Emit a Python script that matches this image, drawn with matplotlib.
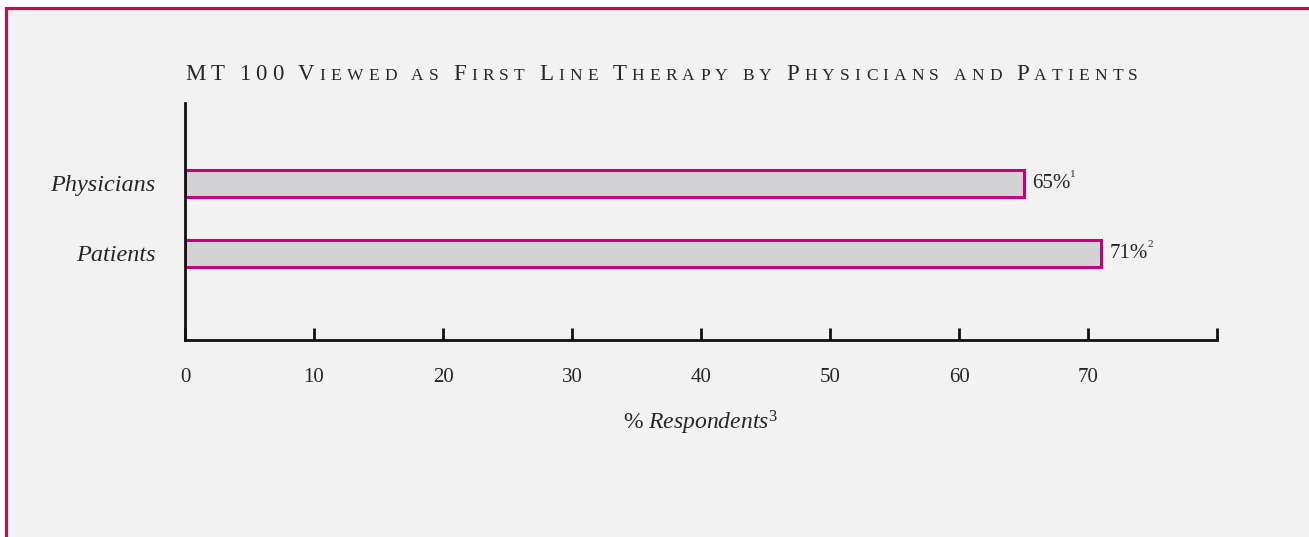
import matplotlib.pyplot as plt
from matplotlib.patches import Rectangle
from matplotlib.offsetbox import TextArea, HPacker, AnnotationBbox

# data
groups = ['Patients', 'Physicians']
values = [71, 65]
notes = ['2', '1']
ticks = [0, 10, 20, 30, 40, 50, 60, 70, 80]
tick_labels = ['0', '10', '20', '30', '40', '50', '60', '70', '']
title_words = ['MT', '100', 'Viewed', 'as', 'First', 'Line', 'Therapy', 'by',
               'Physicians', 'and', 'Patients']

serif = 'Liberation Serif'
plt.rcParams['font.family'] = serif
plt.rcParams['mathtext.fontset'] = 'custom'
plt.rcParams['mathtext.rm'] = serif
plt.rcParams['mathtext.it'] = serif + ':italic'

border = '#b01852'
bar_edge = '#c4007a'
bar_fill = '#d3d3d5'
ink = '#262626'

fig = plt.figure(figsize=(13.09, 5.37), dpi=100, facecolor='white')
W, H = 1309, 537

# panel with border on left and top
fig.patches.append(Rectangle((6 / W, -0.1), 1.2, (H - 8) / H + 0.1,
                             transform=fig.transFigure, facecolor='#f2f2f2',
                             edgecolor=border, linewidth=2.3, zorder=-5))

ax = fig.add_axes([185 / W, 1 - 340 / H, (1217 - 185) / W, (340 - 103) / H])
ax.patch.set_visible(False)

ypos = list(range(len(groups)))
ax.barh(ypos, values, height=0.39, color=bar_fill, edgecolor=bar_edge, linewidth=2.2)

for y, v, n in zip(ypos, values, notes):
    t = ax.text(v + 0.7, y, f'{v}%', va='center', ha='left', fontsize=15, color=ink)
    ax.annotate(n, xy=(1, 1), xycoords=t, xytext=(-0.5, 3), textcoords='offset points',
                ha='left', va='top', fontsize=8, color=ink)

ax.set_xlim(0, 80)
ax.set_ylim(-1.236, 2.15)
ax.set_xticks(ticks)
ax.set_xticklabels(tick_labels, fontsize=15, color=ink)
ax.set_yticks(ypos)
ax.set_yticklabels(groups, fontsize=17.5, style='italic', color=ink)
ax.tick_params(axis='x', direction='in', length=9, width=2, pad=20, color='#111111')
ax.tick_params(axis='y', length=0, pad=21)
for s in ['top', 'right']:
    ax.spines[s].set_visible(False)
for s in ['left', 'bottom']:
    ax.spines[s].set_linewidth(2)
    ax.spines[s].set_color('#111111')

ax.set_xlabel(r'%$\ \mathit{Respondents}^{3}$', fontsize=17, color=ink, labelpad=16)

# small-caps title built letter by letter
parts = []
for i, w in enumerate(title_words):
    if i > 0:
        parts.append(TextArea(' ', textprops=dict(fontsize=12)))
    for j, ch in enumerate(w):
        big = ch.isupper() or ch.isdigit()
        parts.append(TextArea(ch.upper(), textprops=dict(fontsize=16.5 if big else 12.5, color=ink)))
title = HPacker(children=parts, align='baseline', pad=0, sep=3.75)
ab = AnnotationBbox(title, (185 / W, 1 - 75 / H), xycoords='figure fraction',
                    box_alignment=(0, 0.5), frameon=False)
fig.add_artist(ab)

fig.savefig('out.png', dpi=100, facecolor=fig.get_facecolor())
